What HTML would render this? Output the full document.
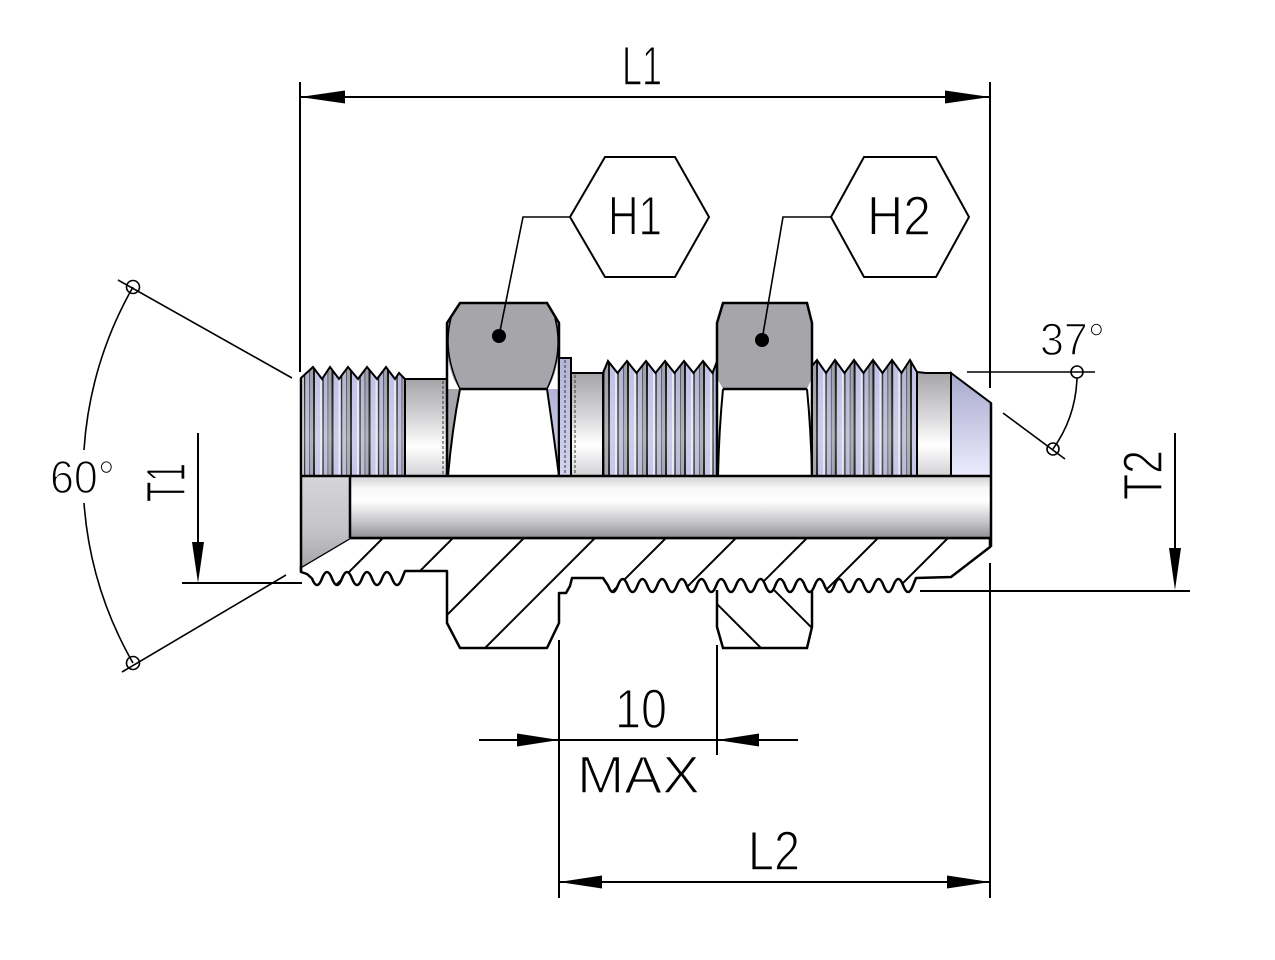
<!DOCTYPE html>
<html>
<head>
<meta charset="utf-8">
<style>
  html,body{margin:0;padding:0;background:#fff;}
  svg{display:block;}
  text{font-family:"Liberation Sans",sans-serif;fill:#000;stroke:#fff;stroke-width:1.4px;paint-order:fill;}
</style>
</head>
<body>
<svg width="1275" height="960" viewBox="0 0 1275 960" xmlns="http://www.w3.org/2000/svg">
  <defs>
    <linearGradient id="cyl" x1="0" y1="0" x2="0" y2="1">
      <stop offset="0" stop-color="#a4a4a8"/>
      <stop offset="0.45" stop-color="#dcdcde"/>
      <stop offset="0.7" stop-color="#ffffff"/>
      <stop offset="1" stop-color="#d2d2d6"/>
    </linearGradient>
    <linearGradient id="bore" x1="0" y1="0" x2="0" y2="1">
      <stop offset="0" stop-color="#d0d0d4"/>
      <stop offset="0.2" stop-color="#f8f8f8"/>
      <stop offset="0.4" stop-color="#ffffff"/>
      <stop offset="0.75" stop-color="#c4c4c8"/>
      <stop offset="1" stop-color="#8e8e94"/>
    </linearGradient>
    <linearGradient id="cone" x1="0" y1="0" x2="0" y2="1">
      <stop offset="0" stop-color="#a8a8cc"/>
      <stop offset="1" stop-color="#ececff"/>
    </linearGradient>
    <linearGradient id="cs" x1="0" y1="0" x2="0" y2="1">
      <stop offset="0" stop-color="#d6d6da"/>
      <stop offset="0.6" stop-color="#c4c4c8"/>
      <stop offset="1" stop-color="#a4a4aa"/>
    </linearGradient>
    <linearGradient id="lav" x1="0" y1="0" x2="0" y2="1">
      <stop offset="0" stop-color="#b4b4d8"/>
      <stop offset="1" stop-color="#d4d4f0"/>
    </linearGradient>
    <linearGradient id="thrOver" x1="0" y1="0" x2="0" y2="1">
      <stop offset="0" stop-color="#ffffff" stop-opacity="0"/>
      <stop offset="0.65" stop-color="#ffffff" stop-opacity="0.22"/>
      <stop offset="1" stop-color="#ffffff" stop-opacity="0.08"/>
    </linearGradient>
    <pattern id="thrL" x="313" y="0" width="18.5" height="960" patternUnits="userSpaceOnUse">
      <rect width="18.5" height="960" fill="#9d9da6"/>
      <rect x="2" width="5" height="960" fill="#c0c0e6"/>
      <rect x="7" width="2" height="960" fill="#e6e6f4"/>
      <rect x="11" width="4" height="960" fill="#b2b2d6"/>
      <rect x="0" width="2" height="960" fill="#111"/>
      <rect x="9.5" width="1.2" height="960" fill="#222"/>
      <rect x="14.5" width="0.8" height="960" fill="#444"/>
    </pattern>
    <pattern id="thr1" x="608" y="0" width="19" height="960" patternUnits="userSpaceOnUse">
      <rect width="19" height="960" fill="#9d9da6"/>
      <rect x="2" width="5" height="960" fill="#c0c0e6"/>
      <rect x="7" width="2" height="960" fill="#e6e6f4"/>
      <rect x="11" width="4" height="960" fill="#b2b2d6"/>
      <rect x="0" width="2" height="960" fill="#111"/>
      <rect x="9.5" width="1.2" height="960" fill="#222"/>
      <rect x="15" width="0.8" height="960" fill="#444"/>
    </pattern>
    <pattern id="thr2" x="816" y="0" width="18.8" height="960" patternUnits="userSpaceOnUse">
      <rect width="18.8" height="960" fill="#9d9da6"/>
      <rect x="2" width="5" height="960" fill="#c0c0e6"/>
      <rect x="7" width="2" height="960" fill="#e6e6f4"/>
      <rect x="11" width="4" height="960" fill="#b2b2d6"/>
      <rect x="0" width="2" height="960" fill="#111"/>
      <rect x="9.5" width="1.2" height="960" fill="#222"/>
      <rect x="15" width="0.8" height="960" fill="#444"/>
    </pattern>
    <clipPath id="bodyClip">
      <path d="M350,538 L301,567 L301,572 L307,574 L312,578.5 Q317,591.5 322,578.5 T332,578.5 T342,578.5 T352,578.5 T362,578.5 T372,578.5 T382,578.5 T392,578.5 T402,578.5 L405,571 L447,571 L447,623 L460,648 L547,648 L559,623 L559,593 L566,593 L570,586 L572,578 L603,578 L608,585.5 Q612.92,598.5 617.84,585.5 T627.68,585.5 T637.52,585.5 T647.36,585.5 T657.2,585.5 T667.04,585.5 T676.88,585.5 T686.72,585.5 T696.56,585.5 T706.4,585.5 T716.24,585.5 T726.08,585.5 T735.92,585.5 T745.76,585.5 T755.6,585.5 T765.44,585.5 T775.28,585.5 T785.12,585.5 T794.96,585.5 T804.8,585.5 T814.64,585.5 T824.48,585.5 T834.32,585.5 T844.16,585.5 T854,585.5 T863.84,585.5 T873.68,585.5 T883.52,585.5 T893.36,585.5 T903.2,585.5 T913.04,585.5 L916,578 L951,577 L990,547 L990,538 Z"/>
    </clipPath>
    <clipPath id="nutClip">
      <path d="M717,578 L812,578 L812,627 L807,648 L723,648 L717,627 Z"/>
    </clipPath>
  </defs>

  <rect width="1275" height="960" fill="#fff"/>

  <!-- ===== Section: nut H2 (below wave) ===== -->
  <path d="M717,578 L812,578 L812,627 L807,648 L723,648 L717,627 Z" fill="#fff"/>
  <g clip-path="url(#nutClip)" stroke="#000" stroke-width="2">
    <line x1="673" y1="560" x2="773" y2="660"/>
    <line x1="744" y1="560" x2="844" y2="660"/>
  </g>
  <path d="M717,590 L717,627 L723,648 L807,648 L812,627 L812,590" fill="none" stroke="#000" stroke-width="2.5"/>

  <!-- ===== Section: body ===== -->
  <path d="M350,538 L301,567 L301,572 L307,574 L312,578.5 Q317,591.5 322,578.5 T332,578.5 T342,578.5 T352,578.5 T362,578.5 T372,578.5 T382,578.5 T392,578.5 T402,578.5 L405,571 L447,571 L447,623 L460,648 L547,648 L559,623 L559,593 L566,593 L570,586 L572,578 L603,578 L608,585.5 Q612.92,598.5 617.84,585.5 T627.68,585.5 T637.52,585.5 T647.36,585.5 T657.2,585.5 T667.04,585.5 T676.88,585.5 T686.72,585.5 T696.56,585.5 T706.4,585.5 T716.24,585.5 T726.08,585.5 T735.92,585.5 T745.76,585.5 T755.6,585.5 T765.44,585.5 T775.28,585.5 T785.12,585.5 T794.96,585.5 T804.8,585.5 T814.64,585.5 T824.48,585.5 T834.32,585.5 T844.16,585.5 T854,585.5 T863.84,585.5 T873.68,585.5 T883.52,585.5 T893.36,585.5 T903.2,585.5 T913.04,585.5 L916,578 L951,577 L990,547 L990,538 Z" fill="#fff"/>
  <g clip-path="url(#bodyClip)" stroke="#000" stroke-width="2">
    <line x1="250" y1="530" x2="120" y2="660"/>
    <line x1="320" y1="530" x2="190" y2="660"/>
    <line x1="391" y1="530" x2="261" y2="660"/>
    <line x1="461" y1="530" x2="331" y2="660"/>
    <line x1="532" y1="530" x2="402" y2="660"/>
    <line x1="603" y1="530" x2="473" y2="660"/>
    <line x1="674" y1="530" x2="544" y2="660"/>
    <line x1="744" y1="530" x2="614" y2="660"/>
    <line x1="815" y1="530" x2="685" y2="660"/>
    <line x1="886" y1="530" x2="756" y2="660"/>
    <line x1="956" y1="530" x2="826" y2="660"/>
    <line x1="1027" y1="530" x2="897" y2="660"/>
  </g>
  <path d="M350,538 L301,567 L301,572 L307,574 L312,578.5 Q317,591.5 322,578.5 T332,578.5 T342,578.5 T352,578.5 T362,578.5 T372,578.5 T382,578.5 T392,578.5 T402,578.5 L405,571 L447,571 L447,623 L460,648 L547,648 L559,623 L559,593 L566,593 L570,586 L572,578 L603,578 L608,585.5 Q612.92,598.5 617.84,585.5 T627.68,585.5 T637.52,585.5 T647.36,585.5 T657.2,585.5 T667.04,585.5 T676.88,585.5 T686.72,585.5 T696.56,585.5 T706.4,585.5 T716.24,585.5 T726.08,585.5 T735.92,585.5 T745.76,585.5 T755.6,585.5 T765.44,585.5 T775.28,585.5 T785.12,585.5 T794.96,585.5 T804.8,585.5 T814.64,585.5 T824.48,585.5 T834.32,585.5 T844.16,585.5 T854,585.5 T863.84,585.5 T873.68,585.5 T883.52,585.5 T893.36,585.5 T903.2,585.5 T913.04,585.5 L916,578 L951,577 L990,547 L990,538 Z" fill="none" stroke="#000" stroke-width="2.5" stroke-linejoin="round"/>

  <!-- ===== Bore and countersink ===== -->
  <rect x="350" y="476" width="640" height="62" fill="url(#bore)"/>
  <path d="M301,476 L350,476 L350,538 L301,567 Z" fill="url(#cs)"/>

  <!-- ===== Upper half (external view) ===== -->
  <path d="M301,476 L301,378 L313,367 L322,379 L330,367 L339,379 L348,367 L358,379 L367,367 L377,379 L386,367 L395,379 L399,373 L405,379 L405,476 Z" fill="url(#thrL)"/>
  <path d="M301,476 L301,378 L313,367 L322,379 L330,367 L339,379 L348,367 L358,379 L367,367 L377,379 L386,367 L395,379 L399,373 L405,379 L405,476 Z" fill="url(#thrOver)" stroke="#000" stroke-width="2"/>
  <rect x="405" y="379" width="42" height="97" fill="url(#cyl)" stroke="#000" stroke-width="2"/>
  <line x1="443" y1="381" x2="443" y2="476" stroke="#333" stroke-width="1" stroke-dasharray="3,2"/>

  <!-- hex H1 -->
  <rect x="447" y="303" width="112" height="173" fill="#fff"/>
  <path d="M460,303 L547,303 L559,323 L559,350 Q556,378 547,389 L460,389 Q450,378 447,350 L447,323 Z" fill="#a6a6aa"/>
  <path d="M447,389 L460,389 Q452,430 448,476 L447,476 Z" fill="#a6a6aa"/>
  <path d="M547,389 L559,389 L559,476 Q553,430 547,389 Z" fill="url(#lav)"/>
  <path d="M460,389 Q452,430 448,476 M547,389 Q553,430 559,476" fill="none" stroke="#000" stroke-width="2"/>
  <path d="M451,318 Q442,352 460,389 M555,318 Q564,352 547,389" fill="none" stroke="#000" stroke-width="1.5"/>
  <path d="M447,476 L447,323 L460,303 L547,303 L559,323 L559,476 M460,389 L547,389" fill="none" stroke="#000" stroke-width="2.5"/>

  <!-- collar -->
  <rect x="559" y="358" width="12" height="118" fill="url(#lav)" stroke="#000" stroke-width="2"/>
  <line x1="565" y1="360" x2="565" y2="476" stroke="#333" stroke-width="1" stroke-dasharray="3,2"/>
  <rect x="571" y="373" width="32" height="103" fill="url(#cyl)" stroke="#000" stroke-width="2"/>
  <line x1="575" y1="375" x2="575" y2="476" stroke="#333" stroke-width="1" stroke-dasharray="3,2"/>

  <!-- thread 1 -->
  <path d="M603,476 L603,373 L608,361 L617.5,373 L627,361 L636.5,373 L646,361 L655.5,373 L665,361 L674.5,373 L684,361 L693.5,373 L703,361 L712.5,373 L716,364 L718,370 L718,476 Z" fill="url(#thr1)"/>
  <path d="M603,476 L603,373 L608,361 L617.5,373 L627,361 L636.5,373 L646,361 L655.5,373 L665,361 L674.5,373 L684,361 L693.5,373 L703,361 L712.5,373 L716,364 L718,370 L718,476 Z" fill="url(#thrOver)" stroke="#000" stroke-width="2"/>

  <!-- hex H2 -->
  <rect x="717" y="303" width="95" height="173" fill="#fff"/>
  <path d="M723,303 L807,303 L812,323 L812,378 L807,389 L723,389 L717,378 L717,323 Z" fill="#a6a6aa"/>
  <path d="M723,389 Q719,430 718,476 M807,389 Q811,430 812,476" fill="none" stroke="#000" stroke-width="2"/>
  <path d="M717,476 L717,323 L723,303 L807,303 L812,323 L812,476 M723,389 L807,389" fill="none" stroke="#000" stroke-width="2.5"/>

  <!-- thread 2 -->
  <path d="M812,476 L812,366 L817,360 L826,373 L835,360 L844.5,373 L854,360 L863.5,373 L873,360 L882.5,373 L892,360 L901.5,373 L910,360 L917,372 L917,476 Z" fill="url(#thr2)"/>
  <path d="M812,476 L812,366 L817,360 L826,373 L835,360 L844.5,373 L854,360 L863.5,373 L873,360 L882.5,373 L892,360 L901.5,373 L910,360 L917,372 L917,476 Z" fill="url(#thrOver)" stroke="#000" stroke-width="2"/>

  <!-- right cylinder + cone -->
  <path d="M917,476 L917,372 L926,373 L951,373 L951,476 Z" fill="url(#cyl)" stroke="#000" stroke-width="2"/>
  <path d="M951,373 L991,403 L991,476 L951,476 Z" fill="url(#cone)" stroke="#000" stroke-width="2"/>

  <g fill="none" stroke="#000" stroke-width="2.5">
    <path d="M301,476 L991,476"/>
    <path d="M350,538 L991,538"/>
    <path d="M350,476 L350,538"/>
    <path d="M301,378 L301,572"/>
    <path d="M991,403 L991,547"/>
  </g>

  <!-- ===== H1 / H2 callouts ===== -->
  <g fill="none" stroke="#000" stroke-width="2">
    <polygon points="570,217 605,157 675,157 709,217 675,277 605,277"/>
    <polygon points="831,217 864,157 936,157 969,217 936,277 864,277"/>
  </g>
  <g fill="none" stroke="#000" stroke-width="1.6">
    <polyline points="570,217 523,217 499,336"/>
    <polyline points="831,217 783,217 762,340"/>
  </g>
  <circle cx="499" cy="336" r="7" fill="#000"/>
  <circle cx="762" cy="340" r="7" fill="#000"/>
  <text x="608" y="235" font-size="56" textLength="54" lengthAdjust="spacingAndGlyphs">H1</text>
  <text x="867" y="235" font-size="56" textLength="64" lengthAdjust="spacingAndGlyphs">H2</text>

  <!-- ===== L1 dimension ===== -->
  <g stroke="#000" stroke-width="2" fill="none">
    <line x1="300" y1="82" x2="300" y2="372"/>
    <line x1="990" y1="82" x2="990" y2="388"/>
    <line x1="990" y1="563" x2="990" y2="898"/>
    <line x1="300" y1="97" x2="990" y2="97"/>
  </g>
  <polygon points="300,97 345,90.5 345,103.5" fill="#000"/>
  <polygon points="990,97 945,90.5 945,103.5" fill="#000"/>
  <text x="622" y="85" font-size="56" textLength="40" lengthAdjust="spacingAndGlyphs">L1</text>

  <!-- ===== 60 deg ===== -->
  <g stroke="#000" stroke-width="1.6" fill="none">
    <line x1="118" y1="280" x2="292" y2="378"/>
    <line x1="286" y1="575" x2="122" y2="672"/>
    <path d="M133,287 A377,377 0 0,0 84,450"/>
    <path d="M84,503 A377,377 0 0,0 133,663"/>
    <circle cx="133" cy="287" r="6.5"/>
    <circle cx="133" cy="663" r="6.5"/>
  </g>
  <text x="50" y="493" font-size="46" textLength="65" lengthAdjust="spacingAndGlyphs">60°</text>

  <!-- ===== T1 ===== -->
  <g stroke="#000" stroke-width="2" fill="none">
    <line x1="198" y1="433" x2="198" y2="550"/>
    <line x1="182" y1="583" x2="302" y2="583"/>
  </g>
  <polygon points="198,583 192,542 204,542" fill="#000"/>
  <text transform="translate(185,502) rotate(-90)" font-size="56" textLength="39" lengthAdjust="spacingAndGlyphs">T1</text>

  <!-- ===== 37 deg ===== -->
  <g stroke="#000" stroke-width="1.6" fill="none">
    <line x1="967" y1="372" x2="1095" y2="372"/>
    <line x1="1003" y1="413" x2="1065" y2="459"/>
    <path d="M1077,378 A129.5,129.5 0 0,1 1053,449"/>
    <circle cx="1077" cy="372" r="6"/>
    <circle cx="1053" cy="449" r="6"/>
  </g>
  <text x="1040" y="355" font-size="45" textLength="65" lengthAdjust="spacingAndGlyphs">37°</text>

  <!-- ===== T2 ===== -->
  <g stroke="#000" stroke-width="2" fill="none">
    <line x1="1175" y1="433" x2="1175" y2="556"/>
    <line x1="920" y1="591" x2="1190" y2="591"/>
  </g>
  <polygon points="1175,590 1169,548 1181,548" fill="#000"/>
  <text transform="translate(1162,500) rotate(-90)" font-size="56" textLength="50" lengthAdjust="spacingAndGlyphs">T2</text>

  <!-- ===== 10 MAX ===== -->
  <g stroke="#000" stroke-width="2" fill="none">
    <line x1="559" y1="640" x2="559" y2="898"/>
    <line x1="717" y1="645" x2="717" y2="755"/>
    <line x1="479" y1="740" x2="798" y2="740"/>
  </g>
  <polygon points="559,740 517,733.5 517,746.5" fill="#000"/>
  <polygon points="717,740 759,733.5 759,746.5" fill="#000"/>
  <text x="615" y="728" font-size="56" textLength="52" lengthAdjust="spacingAndGlyphs">10</text>
  <text x="577" y="793" font-size="53" textLength="123" lengthAdjust="spacingAndGlyphs">MAX</text>

  <!-- ===== L2 ===== -->
  <line x1="559" y1="882" x2="990" y2="882" stroke="#000" stroke-width="2"/>
  <polygon points="559,882 602,875.5 602,888.5" fill="#000"/>
  <polygon points="990,882 947,875.5 947,888.5" fill="#000"/>
  <text x="748" y="870" font-size="56" textLength="52" lengthAdjust="spacingAndGlyphs">L2</text>
</svg>
</body>
</html>
